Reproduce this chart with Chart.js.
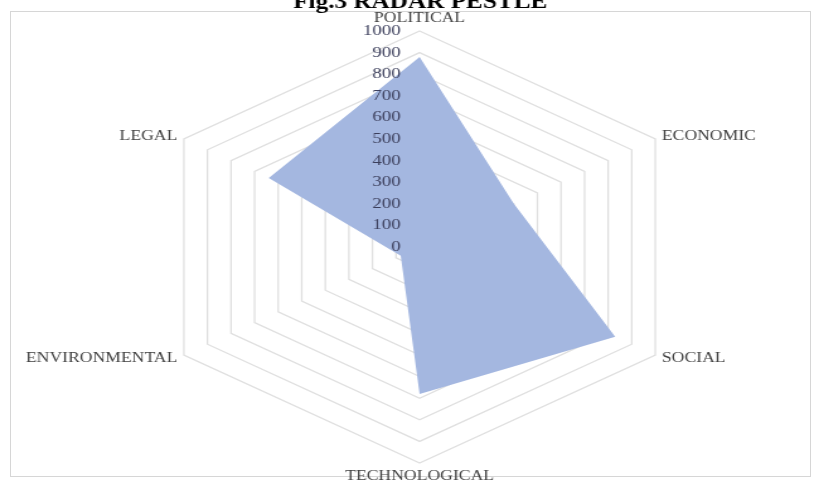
<!DOCTYPE html>
<html>
<head>
<meta charset="utf-8">
<script src="https://cdn.jsdelivr.net/npm/chart.js@4/dist/chart.umd.min.js"></script>
<style>
  html, body { margin: 0; padding: 0; background: #ffffff; width: 817px; height: 482px; overflow: hidden; }
  #frame { position: absolute; left: 10px; top: 11px; width: 801px; height: 466px; border: 1px solid #d6d6d6; box-sizing: border-box; }
  #wrap { position: absolute; left: 0; top: -9px; width: 648px; height: 491px; transform: scaleX(1.26); transform-origin: 0 0; }
</style>
</head>
<body>
<div id="frame"></div>
<div id="wrap"><canvas id="c" width="648" height="491"></canvas></div>
<script>
const categories = ["POLITICAL", "ECONOMIC", "SOCIAL", "TECHNOLOGICAL", "ENVIRONMENTAL", "LEGAL"];
const pestleValues = [880, 400, 830, 680, 80, 640];
const tickValues = [0, 100, 200, 300, 400, 500, 600, 700, 800, 900, 1000];
const chartTitle = "Fig.3 RADAR PESTLE";

const labelPlugin = {
  id: 'excelLabels',
  afterDatasetsDraw(chart) {
    const s = chart.scales.r;
    const ctx = chart.ctx;
    ctx.save();
    // tick labels, right-aligned left of the vertical axis
    ctx.font = '15px "Liberation Serif", "Times New Roman", serif';
    ctx.fillStyle = '#3c3f5c';
    ctx.textAlign = 'right';
    ctx.textBaseline = 'middle';
    tickValues.forEach(v => {
      const y = s.yCenter - s.getDistanceFromCenterForValue(v);
      ctx.fillText(String(v), s.xCenter - 15, y);
    });
    // point labels
    ctx.font = '14px "Liberation Serif", "Times New Roman", serif';
    ctx.fillStyle = '#404040';
    chart.data.labels.forEach((lab, i) => {
      const p = s.getPointPosition(i, s.drawingArea + 6);
      const dx = p.x - s.xCenter;
      if (Math.abs(dx) < 1) {
        ctx.textAlign = 'center';
        ctx.textBaseline = (p.y < s.yCenter) ? 'bottom' : 'top';
      } else {
        ctx.textAlign = dx > 0 ? 'left' : 'right';
        ctx.textBaseline = 'middle';
      }
      ctx.fillText(lab, p.x, p.y);
    });
    ctx.restore();
  }
};

new Chart(document.getElementById('c'), {
  type: 'radar',
  data: {
    labels: categories,
    datasets: [{
      label: 'PESTLE',
      data: pestleValues,
      fill: true,
      backgroundColor: '#a4b7e0',
      borderWidth: 0,
      pointRadius: 0,
      tension: 0
    }]
  },
  options: {
    responsive: false,
    animation: false,
    devicePixelRatio: 1,
    layout: { padding: { top: 0, bottom: 19, left: 59, right: 40 } },
    plugins: {
      legend: { display: false },
      tooltip: { enabled: false },
      title: {
        display: true,
        text: chartTitle,
        fullSize: false,
        color: '#000000',
        font: { family: '"Liberation Serif", "Times New Roman", serif', size: 20, weight: 'bold', lineHeight: 1.2 },
        padding: { top: 0, bottom: 16 }
      }
    },
    scales: {
      r: {
        min: 0,
        max: 1000,
        ticks: { display: false, stepSize: 100 },
        pointLabels: { display: false },
        angleLines: { display: false },
        grid: { color: 'rgba(0,0,0,0.13)', lineWidth: 1.3 }
      }
    }
  },
  plugins: [labelPlugin]
});
</script>
</body>
</html>
